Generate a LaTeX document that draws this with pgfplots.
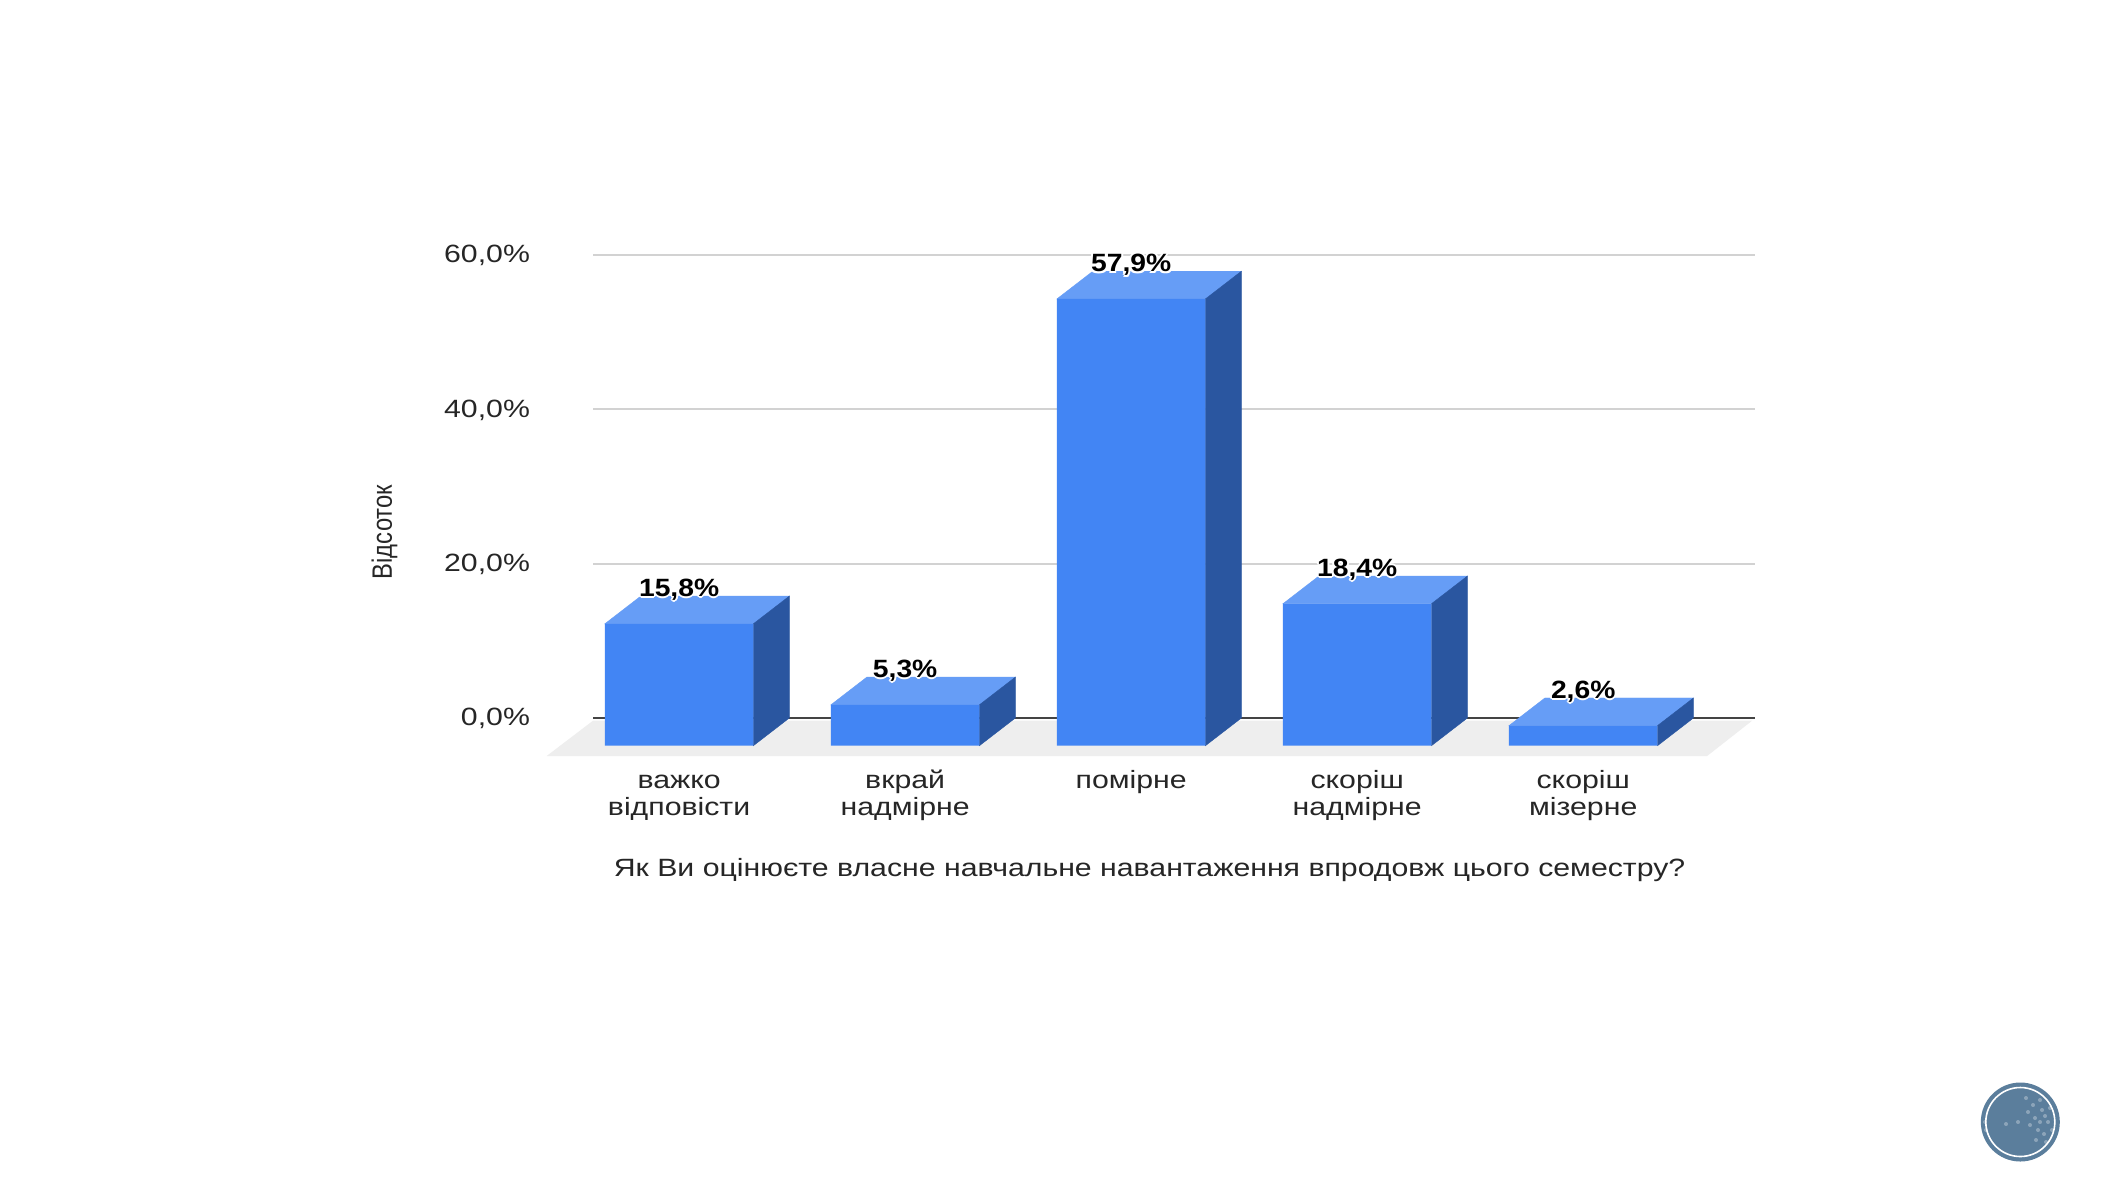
\documentclass[border=0pt]{standalone}
\usepackage{fontspec}
\setmainfont[FakeStretch=1.21,BoldFeatures={FakeStretch=1.13}]{Liberation Sans}
\newfontfamily\narrowfont[FakeStretch=0.85]{Liberation Sans}
\usepackage{pgfplots}
\usepackage{pgfplotstable}
\pgfplotsset{compat=1.18}
\definecolor{front}{HTML}{4285F4}
\definecolor{topf}{HTML}{669DF6}
\definecolor{sidef}{HTML}{2A56A0}
\definecolor{floorc}{HTML}{EEEEEE}
\definecolor{gridc}{HTML}{D2D2D2}
\definecolor{zeroc}{HTML}{444444}
\definecolor{txt}{HTML}{262626}
\definecolor{logo}{HTML}{5B7E9C}
\pgfplotstableread{
i v
0 15.8
1 5.3
2 57.9
3 18.4
4 2.6
}\datatable
% halo round the value labels
\newcommand\hc[3]{\rlap{\kern#1\raisebox{#2}{\textcolor{white}{#3}}}}
\newcommand\halo[1]{\hc{-1pt}{0pt}{#1}\hc{1pt}{0pt}{#1}\hc{0pt}{1pt}{#1}\hc{0pt}{-1pt}{#1}\hc{-.7pt}{-.7pt}{#1}\hc{.7pt}{-.7pt}{#1}\hc{-.7pt}{.7pt}{#1}\hc{.7pt}{.7pt}{#1}#1}
\begin{document}
\begin{tikzpicture}
\path[use as bounding box,fill=white] (0pt,0pt) rectangle (1057pt,-595.5pt);
\begin{axis}[
  at={(296.5pt,-378pt)},anchor=south west,
  scale only axis,width=581pt,height=250.5pt,
  xmin=-0.381,xmax=4.76,ymin=-4.924,ymax=60,
  clip=false,
  axis line style={draw=none},
  tick style={draw=none},
  ymajorgrids,
  grid style={gridc,line width=1pt},
  xtick={0,1,2,3,4},
  xticklabels={{\strut важко\\відповісти},{\strut вкрай\\надмірне},{\strut помірне},{\strut скоріш\\надмірне},{\strut скоріш\\мізерне}},
  xticklabel style={align=center,anchor=north,yshift=-3.25pt,text=txt,font=\fontsize{12.5}{13.5}\selectfont},
  ytick={0,20,40,60},
  yticklabels={{0,0\%},{20,0\%},{40,0\%},{60,0\%}},
  yticklabel style={anchor=east,xshift=-28pt,yshift=-0.3pt,text=txt,font=\fontsize{12.5}{14}\selectfont},
  xlabel={Як Ви оцінюєте власне навчальне навантаження впродовж цього семестру?},
  xlabel style={at={(axis description cs:0.479,-0.2275)},anchor=center,text=txt,font=\fontsize{12.5}{14}\selectfont},
  ylabel={\narrowfont Відсоток},
  ylabel style={at={(axis description cs:-0.1795,0.447)},anchor=center,rotate=0,text=txt,font=\fontsize{14}{15}\selectfont},
]
% floor and zero line
\addplot[fill=floorc,draw=none] coordinates {(-0.586,-4.924)(4.548,-4.924)(4.747,-0.35)(-0.381,-0.35)} --cycle;
\addplot[zeroc,line width=1pt] coordinates {(-0.381,0)(4.76,0)};
% top and side faces
\newcommand\faces[2]{%
  \pgfmathsetmacro\xl{#1-0.3285}\pgfmathsetmacro\xr{#1+0.3285}%
  \pgfmathsetmacro\xlb{#1-0.3285+0.159}\pgfmathsetmacro\xrb{#1+0.3285+0.159}%
  \pgfmathsetmacro\yf{#2-3.59}%
  \addplot[fill=topf,draw=topf,line width=0.2pt] coordinates {(\xl,\yf)(\xr,\yf)(\xrb,#2)(\xlb,#2)} --cycle;
  \addplot[fill=sidef,draw=sidef,line width=0.2pt] coordinates {(\xr,\yf)(\xrb,#2)(\xrb,0)(\xr,-3.59)} --cycle;
}
\faces{0}{15.8}
\faces{1}{5.3}
\faces{2}{57.9}
\faces{3}{18.4}
\faces{4}{2.6}
% front faces
\addplot[ybar,bar width=74.25pt,fill=front,draw=none,yshift=-13.85pt] table[x=i,y=v] {\datatable};
% value labels
\addplot[draw=none,mark=none,
  nodes near coords={\halo{\pgfmathprintnumber[fixed,fixed zerofill,precision=1,use comma,assume math mode=true]{\pgfplotspointmeta}\%}},
  every node near coord/.append style={anchor=base,inner sep=0pt,yshift=-0.2pt,text=black,font=\bfseries\fontsize{12.5}{14}\selectfont}
] table[x=i,y=v] {\datatable};
\end{axis}
% decorative badge
\begin{scope}[x=0.5pt,y=-0.5pt]
\fill[logo] (2020.3,1122) circle[radius=19.75pt];
\draw[white,line width=0.8pt] (2020.3,1122) circle[radius=17.25pt];
\foreach \a/\b in {2035/1118,2042/1110,2030/1125,2048/1122,2038/1130,2044/1134,2028/1112,2050/1108,2036/1140,2046/1142,2026/1098,2040/1100,2052/1130,1985/1122,1986/1130,2018/1122,2006/1124,2033/1105,2040/1122,2045/1116}
  \fill[white,opacity=0.3] (\a,\b) circle[radius=1pt];
\end{scope}
\end{tikzpicture}
\end{document}
